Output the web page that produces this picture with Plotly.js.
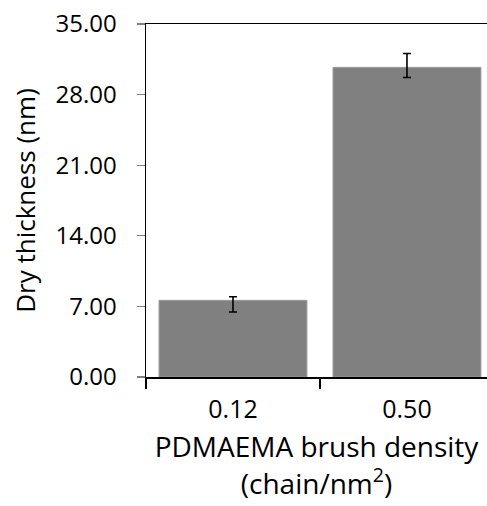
<!DOCTYPE html>
<html>
<head>
<meta charset="utf-8">
<script src="https://cdn.plot.ly/plotly-3.0.1.min.js"></script>
<style>html,body{margin:0;padding:0;overflow:hidden;background:#fff}</style>
</head>
<body>
<div id="chart" style="width:487px;height:506px"></div>
<script>
const categories = ["0.12", "0.50"];
const thickness = [7.6, 30.7];
const errPlus = [0.35, 1.38];
const errMinus = [1.15, 1.0];
const yTicks = [0, 7, 14, 21, 28, 35];

const FONT = "Open Sans, sans-serif";

Plotly.newPlot("chart", [{
  type: "bar",
  x: categories,
  y: thickness,
  marker: {color: "#808080", line: {color: "#9a9a9a", width: 1}},
  error_y: {type: "data", symmetric: false, array: errPlus, arrayminus: errMinus,
            color: "#000", thickness: 1.6, width: 4},
  hoverinfo: "none"
}], {
  width: 487, height: 506,
  margin: {l: 146, r: 0, t: 24, b: 129},
  paper_bgcolor: "#fff", plot_bgcolor: "#fff",
  bargap: 0.15,
  showlegend: false,
  font: {family: FONT, color: "#000"},
  xaxis: {
    type: "category",
    range: [-0.5, 1.46],
    showline: true, linecolor: "#000", linewidth: 1.5, mirror: true,
    ticks: "outside", tickson: "boundaries", ticklen: 10, tickcolor: "#000", tickwidth: 1.2,
    ticklabelstandoff: 9,
    tickfont: {size: 25, family: FONT},
    showgrid: false,
    title: {text: "PDMAEMA brush density<br>(chain/nm<sup>2</sup>)", font: {size: 28, family: FONT}, standoff: 14}
  },
  yaxis: {
    range: [0, 35],
    tickvals: yTicks,
    tickformat: ".2f",
    showline: true, linecolor: "#000", linewidth: 1.5,
    ticks: "outside", ticklen: 8, tickcolor: "#808080", tickwidth: 1.2,
    ticklabelstandoff: 15,
    tickfont: {size: 24, family: FONT},
    showgrid: false, zeroline: false,
    title: {text: "Dry thickness (nm)", font: {size: 26, family: FONT}, standoff: 12}
  }
}, {displayModeBar: false, staticPlot: true});
</script>
</body>
</html>
